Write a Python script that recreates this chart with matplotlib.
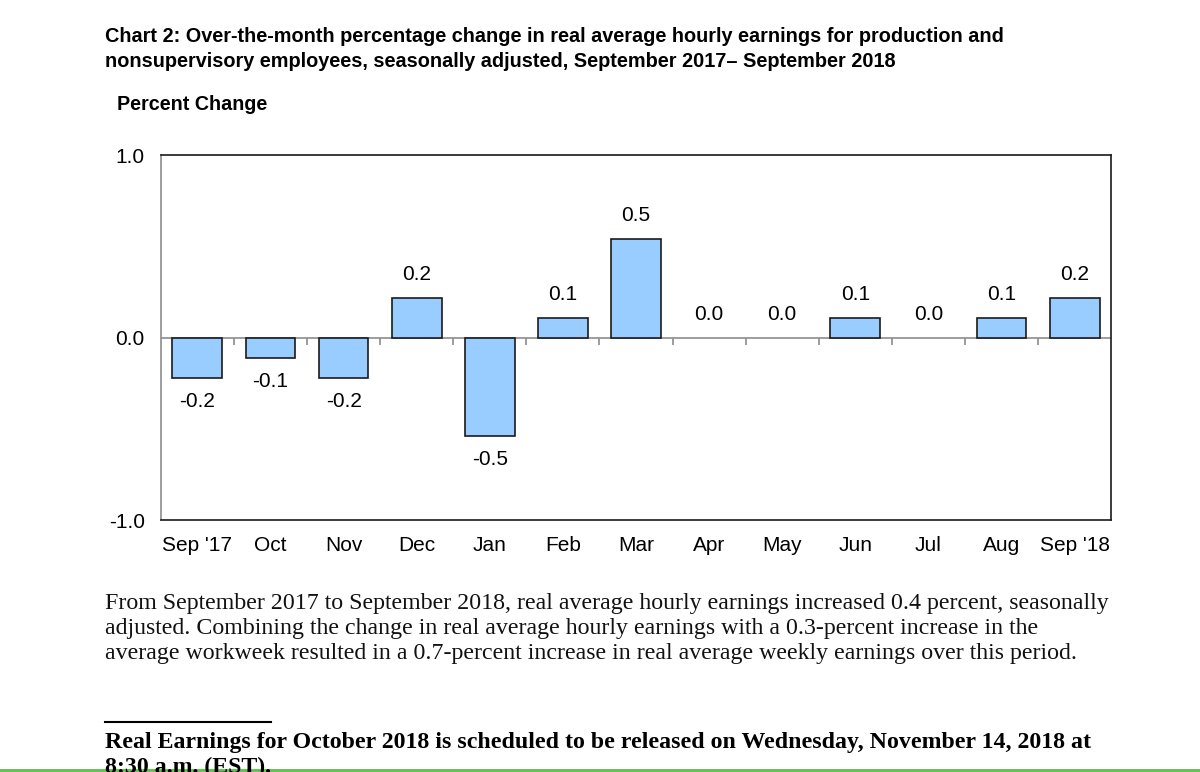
import numpy as np
import matplotlib
matplotlib.use("Agg")
import matplotlib.pyplot as plt

# monthly change, percent
months = ["Sep '17", "Oct", "Nov", "Dec", "Jan", "Feb", "Mar",
          "Apr", "May", "Jun", "Jul", "Aug", "Sep '18"]
pct_change = [-0.22, -0.11, -0.22, 0.22, -0.54, 0.11, 0.54,
              0.0, 0.0, 0.11, 0.0, 0.11, 0.22]
yticks = [-1.0, 0.0, 1.0]

title = ("Chart 2: Over-the-month percentage change in real average hourly earnings for production and\n"
         "nonsupervisory employees, seasonally adjusted, September 2017\u2013 September 2018")
body = ("From September 2017 to September 2018, real average hourly earnings increased 0.4 percent, seasonally\n"
        "adjusted. Combining the change in real average hourly earnings with a 0.3-percent increase in the\n"
        "average workweek resulted in a 0.7-percent increase in real average weekly earnings over this period.")
note = ("Real Earnings for October 2018 is scheduled to be released on Wednesday, November 14, 2018 at\n"
        "8:30 a.m. (EST).")

plt.rcParams['font.family'] = ['Liberation Sans', 'DejaVu Sans']
serif = ['Liberation Serif', 'DejaVu Serif']

fig = plt.figure(figsize=(12, 7.72), dpi=100)
ax = fig.add_axes([0.134, 0.326, 0.792, 0.473])

x = np.arange(len(months))
edges = ['#1a1a1a' if v != 0 else 'none' for v in pct_change]
ax.bar(x, pct_change, width=0.68, color='#99ccff', edgecolor=edges, linewidth=1.2, zorder=3)

# zero line with small ticks between categories
ax.axhline(0, color='#8c8c8c', linewidth=1.2, zorder=2)
ax.vlines(x[1:] - 0.5, -0.04, 0, color='#8c8c8c', linewidth=1.2, zorder=2)

for xi, v in zip(x, pct_change):
    off = 10 if v >= 0 else -10
    ax.annotate('%.1f' % v, (xi, v), xytext=(0, off), textcoords='offset points',
                ha='center', va='bottom' if v >= 0 else 'top', fontsize=15)

ax.set_xlim(-0.5, len(months) - 0.5)
ax.set_ylim(-1.0, 1.0)
ax.set_yticks(yticks)
ax.set_yticklabels(['%.1f' % t for t in yticks], fontsize=15)
ax.set_xticks(x)
ax.set_xticklabels(months, fontsize=15)
ax.tick_params(length=0)
ax.tick_params(axis='x', pad=11.5)
ax.tick_params(axis='y', pad=11.5)
for s in ['top', 'right', 'bottom']:
    ax.spines[s].set_color('#1a1a1a')
    ax.spines[s].set_linewidth(1.2)
ax.spines['left'].set_color('#8c8c8c')
ax.spines['left'].set_linewidth(1.2)

fig.text(105 / 1200, 1 - 27 / 772, title, fontsize=14.3, fontweight='bold', va='top',
         linespacing=1.4)
fig.text(117 / 1200, 1 - 104 / 772, "Percent Change", fontsize=14.2, fontweight='bold', va='center')

fig.text(105 / 1200, 1 - 593 / 772, body, fontsize=17.2, va='top', color='#111111',
         family=serif, linespacing=1.25)

fig.add_artist(plt.Line2D([105 / 1200, 271 / 1200], [1 - 722 / 772] * 2, color='black', linewidth=1.5))
fig.text(105 / 1200, 1 - 732 / 772, note, fontsize=17.2, fontweight='bold', va='top',
         family=serif, linespacing=1.25)
fig.add_artist(plt.Line2D([0, 1], [1 - 770 / 772] * 2, color='#5cc04a', linewidth=2))

fig.savefig('out.png', dpi=100)
